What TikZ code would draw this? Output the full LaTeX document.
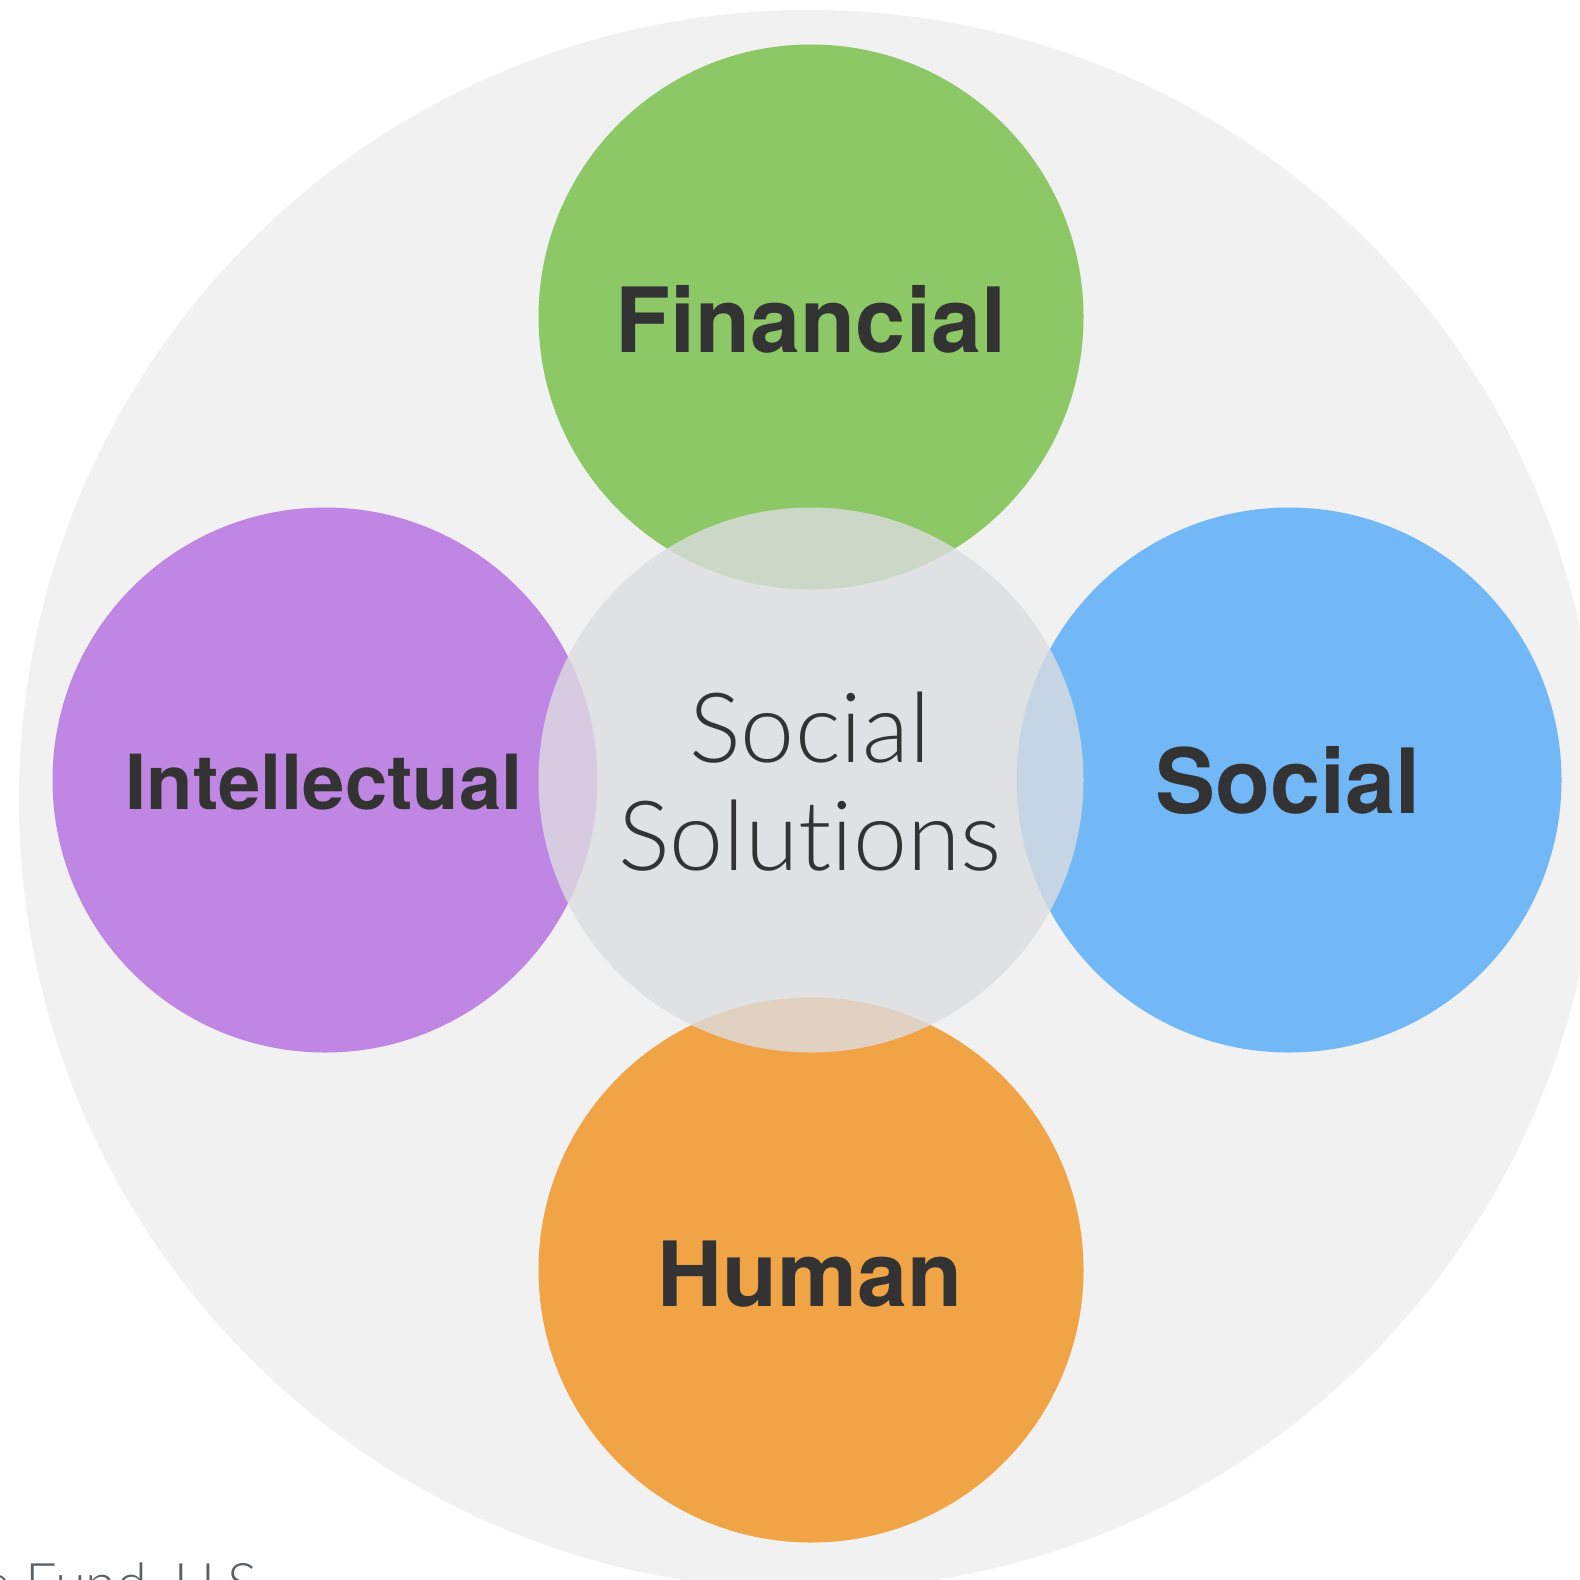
\documentclass[tikz,border=0pt]{standalone}
\usepackage{fontspec}
\setmainfont{TeX Gyre Heros}
\newfontfamily\lightfont{Lato}[UprightFont=* Light, Ligatures=NoCommon]
\definecolor{outerbg}{HTML}{F0F1F0}
\definecolor{midfill}{HTML}{DCDDE0}
\definecolor{fingreen}{HTML}{8CC866}
\definecolor{intpurple}{HTML}{BF86E3}
\definecolor{socblue}{HTML}{72B7F6}
\definecolor{humorange}{HTML}{F0A445}
\definecolor{txtdark}{HTML}{333333}
\definecolor{srcgrey}{HTML}{5A6066}
\tikzset{
  capital/.style={circle, minimum size=545pt, inner sep=0pt, draw=none, fill=#1},
  boldlabel/.style={anchor=base, text=txtdark, inner sep=0pt, font=\bfseries\fontsize{#1}{#1}\selectfont},
  lightlabel/.style={anchor=base, text=txtdark, inner sep=0pt, font=\lightfont\fontsize{97}{108}\selectfont},
}
\begin{document}
\begin{tikzpicture}[x=1pt,y=-1pt]
\useasboundingbox (0,0) rectangle (1580,1580);
\clip (0,0) rectangle (1580,1580);
\fill[white] (0,0) rectangle (1580,1580);
\node[circle, minimum size=1580pt, inner sep=0pt, fill=outerbg] (outer) at (809,800) {};
\node[capital=fingreen] (fin) at (811,317) {};
\node[capital=intpurple] (int) at (325,780) {};
\node[capital=socblue] (soc) at (1289,780) {};
\node[capital=humorange] (hum) at (811,1270) {};
\node[capital=midfill, fill opacity=0.8] (mid) at (811,780) {};
\node[boldlabel=90] (fintxt) at (811,352) {Financial};
\node[boldlabel=76] (inttxt) at (324,809) {Intellectual};
\node[boldlabel=90] (soctxt) at (1288,813) {Social};
\node[boldlabel=90] (humtxt) at (810,1306) {Human};
\node[lightlabel] (midtxt1) at (810,762) {Social};
\node[lightlabel] (midtxt2) at (810,870) {Solutions};
\node[anchor=base west, inner sep=0pt, text=srcgrey, font=\lightfont\fontsize{56}{56}\selectfont] (src) at (-19,1603) {e Fund, U.S.};
\end{tikzpicture}
\end{document}
